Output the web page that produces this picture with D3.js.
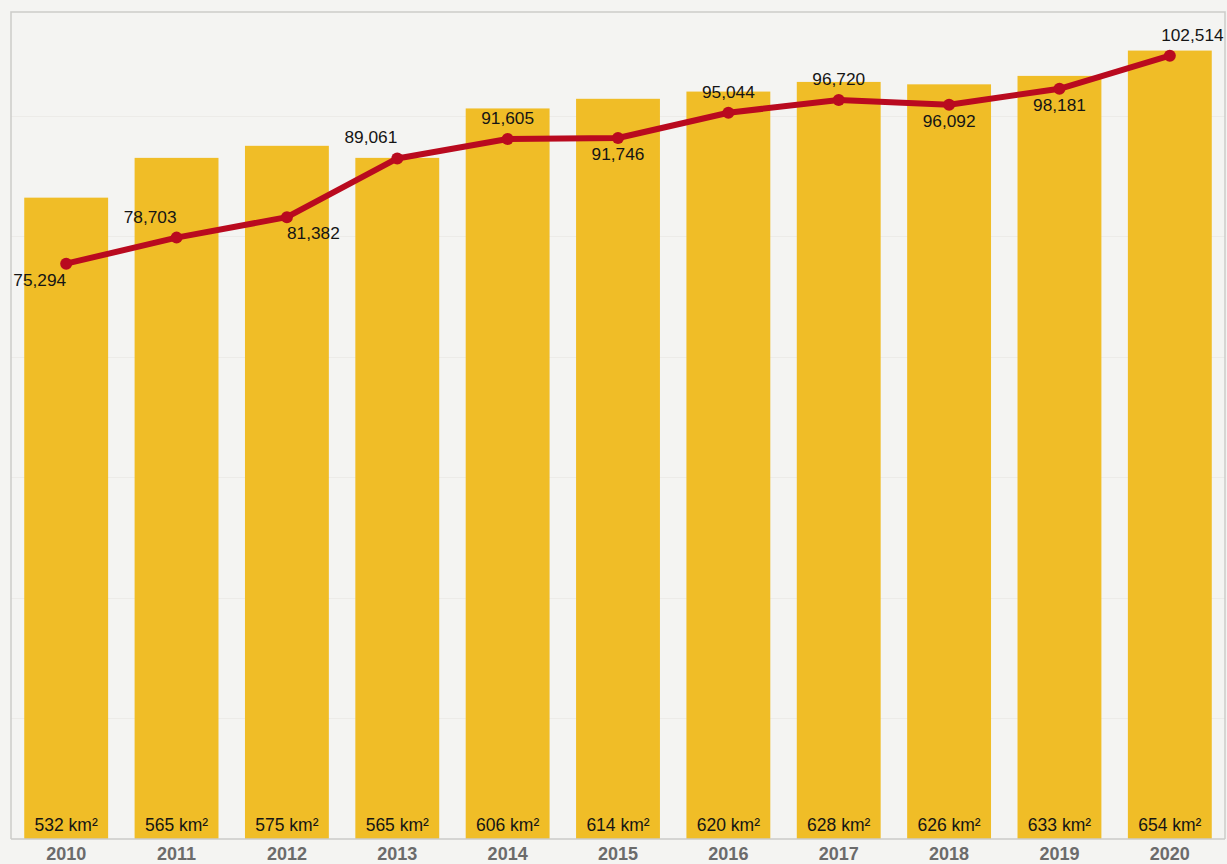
<!DOCTYPE html>
<html>
<head>
<meta charset="utf-8">
<script src="https://cdn.jsdelivr.net/npm/d3@7"></script>
<style>
  html, body { margin: 0; padding: 0; background: #f4f4f2; }
  text { font-family: Arial, "Liberation Sans", sans-serif; }
</style>
</head>
<body>
<svg id="chart"></svg>
<script>
// chart data
var years = ['2010', '2011', '2012', '2013', '2014', '2015', '2016', '2017', '2018', '2019', '2020'];
var areaKm2 = [532, 565, 575, 565, 606, 614, 620, 628, 626, 633, 654];
var population = [75294, 78703, 81382, 89061, 91605, 91746, 95044, 96720, 96092, 98181, 102514];

// where each line label sits relative to its point
var labelSide = ['below', 'above', 'below', 'above', 'above', 'below', 'above', 'above', 'below', 'below', 'above'];
var labelAnchor = ['end', 'end', 'start', 'end', 'middle', 'middle', 'middle', 'middle', 'middle', 'middle', 'start'];

var width = 1227;
var height = 864;
var frame = { left: 11, top: 12, right: 1225, bottom: 839 };

var svg = d3.select('#chart')
  .attr('width', width)
  .attr('height', height);

svg.append('rect')
  .attr('width', width)
  .attr('height', height)
  .attr('fill', '#f4f4f2');

var x = d3.scaleBand()
  .domain(years)
  .range([frame.left, frame.right])
  .paddingInner(0.24)
  .paddingOuter(0.12);

var yBar = d3.scaleLinear()
  .domain([0, 686])
  .range([frame.bottom, frame.top]);

var yLine = d3.scaleLinear()
  .domain([0, 108230])
  .range([frame.bottom, frame.top]);

// faint gridlines
svg.append('g')
  .selectAll('line')
  .data(yBar.ticks(6).filter(function (d) { return d > 0; }))
  .enter().append('line')
    .attr('x1', frame.left)
    .attr('x2', frame.right)
    .attr('y1', function (d) { return Math.round(yBar(d)) + 0.5; })
    .attr('y2', function (d) { return Math.round(yBar(d)) + 0.5; })
    .attr('stroke', '#ecebe8')
    .attr('stroke-width', 1);

// bars
svg.append('g')
  .selectAll('rect')
  .data(areaKm2)
  .enter().append('rect')
    .attr('x', function (d, i) { return x(years[i]); })
    .attr('y', function (d) { return yBar(d); })
    .attr('width', x.bandwidth())
    .attr('height', function (d) { return frame.bottom - yBar(d); })
    .attr('fill', '#f0bd27');

// bar labels
svg.append('g')
  .selectAll('text')
  .data(areaKm2)
  .enter().append('text')
    .attr('x', function (d, i) { return x(years[i]) + x.bandwidth() / 2; })
    .attr('y', frame.bottom - 8)
    .attr('text-anchor', 'middle')
    .attr('font-size', 17.5)
    .attr('fill', '#151515')
    .text(function (d) { return d + ' km²'; });

// frame
svg.append('path')
  .attr('d', 'M' + frame.left + ',' + frame.bottom + 'V' + frame.top + 'H' + frame.right + 'V' + frame.bottom)
  .attr('fill', 'none')
  .attr('stroke', '#cbcbc9')
  .attr('stroke-width', 1.5);

// x axis
var xAxis = svg.append('g')
  .attr('transform', 'translate(0,' + frame.bottom + ')')
  .call(d3.axisBottom(x).tickSize(0).tickPadding(0));
xAxis.select('.domain')
  .attr('stroke', '#cbcbc9')
  .attr('stroke-width', 1.5)
  .attr('d', 'M' + frame.left + ',0H' + frame.right);
xAxis.selectAll('text')
  .attr('dy', null)
  .attr('y', 21)
  .attr('font-size', 18)
  .attr('font-weight', 'bold')
  .attr('font-family', 'Arial, "Liberation Sans", sans-serif')
  .attr('fill', '#6b6b6b');

// population line
var cx = function (i) { return x(years[i]) + x.bandwidth() / 2; };
var line = d3.line()
  .x(function (d, i) { return cx(i); })
  .y(function (d) { return yLine(d); });

svg.append('path')
  .datum(population)
  .attr('d', line)
  .attr('fill', 'none')
  .attr('stroke', '#b90a1f')
  .attr('stroke-width', 6)
  .attr('stroke-linejoin', 'round');

svg.append('g')
  .selectAll('circle')
  .data(population)
  .enter().append('circle')
    .attr('cx', function (d, i) { return cx(i); })
    .attr('cy', function (d) { return yLine(d); })
    .attr('r', 6)
    .attr('fill', '#b90a1f');

// population labels
var fmt = d3.format(',');
svg.append('g')
  .selectAll('text')
  .data(population)
  .enter().append('text')
    .attr('x', function (d, i) { return cx(i); })
    .attr('y', function (d, i) { return yLine(d) + (labelSide[i] === 'above' ? -15 : 22); })
    .attr('text-anchor', function (d, i) { return labelAnchor[i]; })
    .attr('font-size', 17.3)
    .attr('fill', '#151515')
    .text(function (d) { return fmt(d); })
    .each(function () {
      // keep labels inside the frame
      var b = this.getBBox();
      if (b.x + b.width > frame.right - 1) {
        d3.select(this).attr('x', +d3.select(this).attr('x') - (b.x + b.width - frame.right + 1));
      }
    });
</script>
</body>
</html>
